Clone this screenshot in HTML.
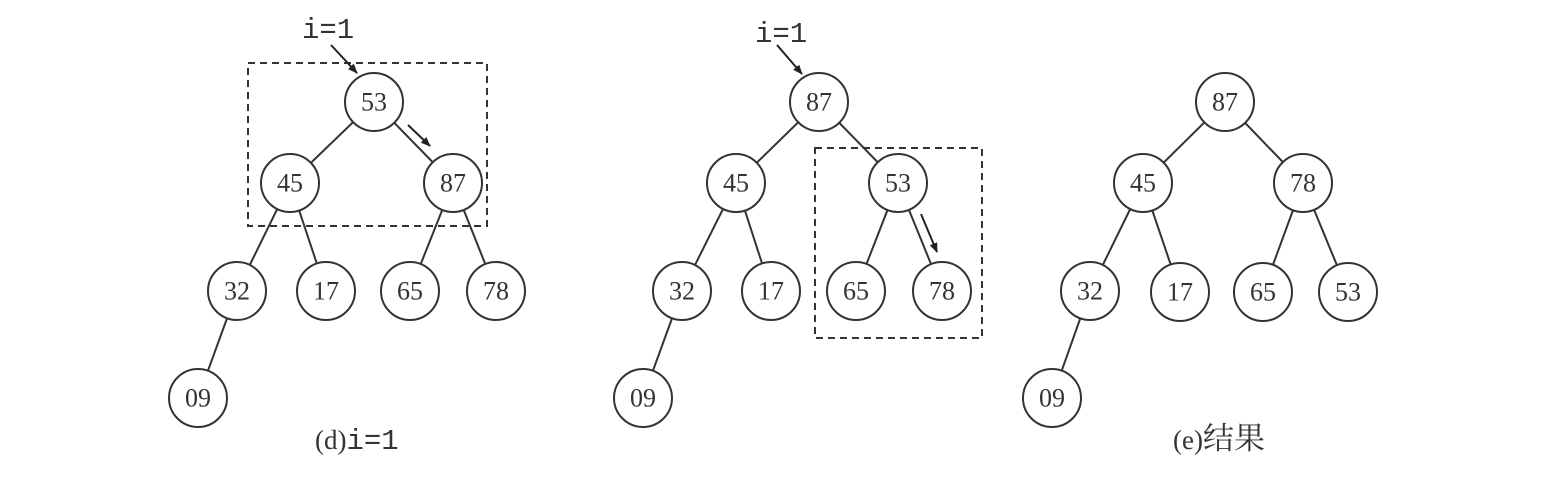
<!DOCTYPE html>
<html><head><meta charset="utf-8"><style>
html,body{margin:0;padding:0;background:#fff;}
svg{display:block;}
</style></head><body>
<svg width="1560" height="489" viewBox="0 0 1560 489" xmlns="http://www.w3.org/2000/svg">
<defs>
<marker id="ah" markerWidth="10" markerHeight="8" refX="9" refY="4" orient="auto" markerUnits="userSpaceOnUse">
<path d="M0,0 L10,4 L0,8 z" fill="#222"/>
</marker>
</defs>
<g stroke="#333" stroke-width="2" fill="none">
<line x1="374" y1="102" x2="290" y2="183"/><line x1="374" y1="102" x2="453" y2="183"/>
<line x1="290" y1="183" x2="237" y2="291"/><line x1="290" y1="183" x2="326" y2="291"/>
<line x1="453" y1="183" x2="410" y2="291"/><line x1="453" y1="183" x2="496" y2="291"/>
<line x1="237" y1="291" x2="198" y2="398"/>
<line x1="819" y1="102" x2="736" y2="183"/><line x1="819" y1="102" x2="898" y2="183"/>
<line x1="736" y1="183" x2="682" y2="291"/><line x1="736" y1="183" x2="771" y2="291"/>
<line x1="898" y1="183" x2="856" y2="291"/><line x1="898" y1="183" x2="942" y2="291"/>
<line x1="682" y1="291" x2="643" y2="398"/>
<line x1="1225" y1="102" x2="1143" y2="183"/><line x1="1225" y1="102" x2="1303" y2="183"/>
<line x1="1143" y1="183" x2="1090" y2="291"/><line x1="1143" y1="183" x2="1180" y2="292"/>
<line x1="1303" y1="183" x2="1263" y2="292"/><line x1="1303" y1="183" x2="1348" y2="292"/>
<line x1="1090" y1="291" x2="1052" y2="398"/>
</g>
<g stroke="#333" stroke-width="2" fill="none" stroke-dasharray="7,5">
<rect x="248" y="63" width="239" height="163"/>
<rect x="815" y="148" width="167" height="190"/>
</g>
<g stroke="#222" stroke-width="2" fill="none" marker-end="url(#ah)">
<line x1="331" y1="45" x2="357" y2="73"/>
<line x1="408" y1="125" x2="430" y2="146"/>
<line x1="777" y1="45" x2="802" y2="74"/>
<line x1="921" y1="214" x2="937" y2="252"/>
</g>
<g stroke="#333" stroke-width="2" fill="#fff">
<circle cx="374" cy="102" r="29"/><circle cx="290" cy="183" r="29"/><circle cx="453" cy="183" r="29"/>
<circle cx="237" cy="291" r="29"/><circle cx="326" cy="291" r="29"/><circle cx="410" cy="291" r="29"/><circle cx="496" cy="291" r="29"/>
<circle cx="198" cy="398" r="29"/>
<circle cx="819" cy="102" r="29"/><circle cx="736" cy="183" r="29"/><circle cx="898" cy="183" r="29"/>
<circle cx="682" cy="291" r="29"/><circle cx="771" cy="291" r="29"/><circle cx="856" cy="291" r="29"/><circle cx="942" cy="291" r="29"/>
<circle cx="643" cy="398" r="29"/>
<circle cx="1225" cy="102" r="29"/><circle cx="1143" cy="183" r="29"/><circle cx="1303" cy="183" r="29"/>
<circle cx="1090" cy="291" r="29"/><circle cx="1180" cy="292" r="29"/><circle cx="1263" cy="292" r="29"/><circle cx="1348" cy="292" r="29"/>
<circle cx="1052" cy="398" r="29"/>
</g>
<g font-family="Liberation Serif, serif" font-size="26" fill="#333" text-anchor="middle" dominant-baseline="central">
<text x="374" y="102">53</text><text x="290" y="183">45</text><text x="453" y="183">87</text>
<text x="237" y="291">32</text><text x="326" y="291">17</text><text x="410" y="291">65</text><text x="496" y="291">78</text>
<text x="198" y="398">09</text>
<text x="819" y="102">87</text><text x="736" y="183">45</text><text x="898" y="183">53</text>
<text x="682" y="291">32</text><text x="771" y="291">17</text><text x="856" y="291">65</text><text x="942" y="291">78</text>
<text x="643" y="398">09</text>
<text x="1225" y="102">87</text><text x="1143" y="183">45</text><text x="1303" y="183">78</text>
<text x="1090" y="291">32</text><text x="1180" y="292">17</text><text x="1263" y="292">65</text><text x="1348" y="292">53</text>
<text x="1052" y="398">09</text>
</g>
<g font-family="Liberation Mono, monospace" font-size="29" fill="#333">
<text x="302" y="38">i=1</text>
<text x="755" y="42">i=1</text>
</g>
<text x="315" y="449" font-family="Liberation Serif, serif" font-size="27" fill="#333">(d)<tspan font-family="Liberation Mono, monospace" font-size="29">i=1</tspan></text>
<text x="1173" y="449" font-family="Liberation Serif, 'Noto Serif CJK SC', serif" font-size="27" fill="#333">(e)<tspan font-size="31">结果</tspan></text>
</svg>
</body></html>
